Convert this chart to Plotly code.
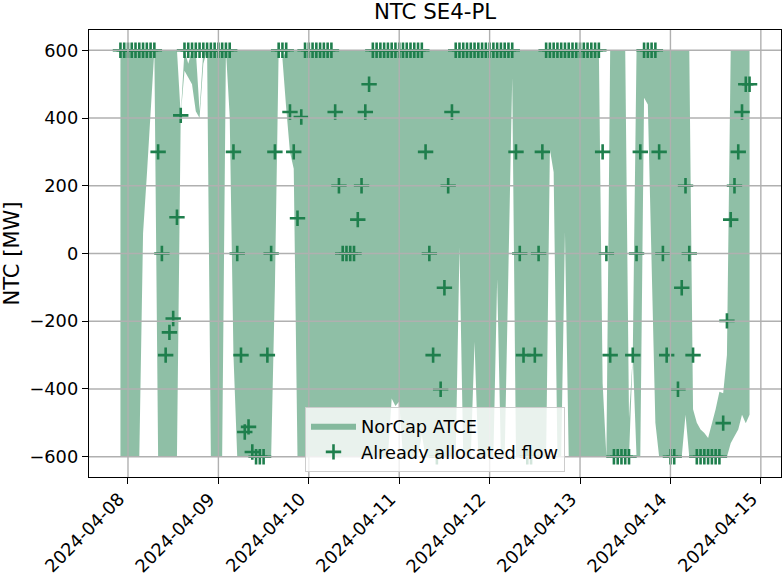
import plotly.graph_objects as go
import pandas as pd

# %% DATOS (una fila = un día, desde las 22:00 UTC)
horas = pd.date_range("2024-04-07 22:00", periods=168, freq="h")

flujo_asignado = [
    600, 600, 600, 600, 600, 600, 600, 600, 600, 600, 300, 0, -300, -233, -192, 107, 408, 600, 600, 600, 600, 600, 600, 600,
    600, 600, 600, 600, 600, 600, 300, 0, -300, -527, -512, -586, -600, -600, -600, -300, 0, 300, 600, 600, 600, 418, 300, 104,
    403, 600, 600, 600, 600, 600, 600, 600, 600, 418, 200, 0, 0, 0, 0, 100, 200, 418, 500, 600, 600, 600, 600, 600,
    600, 600, 600, 600, 600, 600, 600, 600, 600, 300, 0, -300, -600, -401, -101, 200, 418, 600, 600, 600, 600, 600, 600, 600,
    600, 600, 600, 600, 600, 600, 600, 600, 600, 300, 0, -300, -600, -600, -300, 0, 300, 600, 600, 600, 600, 600, 600, 600,
    600, 600, 600, 600, 600, 600, 600, 600, 300, 0, -300, -600, -600, -600, -600, -600, -300, 0, 300, 600, 600, 600, 600, 300,
    0, -300, -600, -600, -401, -101, 200, 0, -300, -600, -600, -600, -600, -600, -600, -600, -501, -199, 100, 200, 300, 418, 500, 500,
]

atce_max = [
    600, 600, 600, 600, 600, 600, 600, 600, 600, 600, 600, 600, 600, 600, 600, 600, 408, 600, 560, 600, 600, 420, 600, 600,
    600, 600, 600, 600, 600, 600, 600, 600, 600, 600, 600, 600, 600, 600, 600, 600, 600, 600, 600, 575, 600, 600, 600, 600,
    600, 600, 600, 600, 600, 600, 600, 600, 600, 600, 600, 600, 600, 600, 600, 600, 600, 600, 600, 600, 600, 600, 600, 600,
    600, 600, 600, 600, 600, 600, 600, 600, 600, 600, 600, 600, 600, 600, 600, 600, 600, 600, 600, 600, 600, 600, 600, 600,
    600, 600, 600, 600, 600, 600, 600, 600, 600, 600, 600, 600, 600, 600, 600, 600, 600, 600, 600, 600, 600, 600, 600, 600,
    600, 600, 600, 600, 600, 600, 600, 600, -383, -600, 600, 600, 600, 600, 600, -487, -300, 600, 600, 600, 600, 600, 600, 600,
    600, 600, 600, 600, 600, 600, 600, 600, -460, -500, -520, -530, -545, -505, -460, -408, -413, -300, 600, 600, 600, 600, 600, 600,
]

atce_min = [
    -600, -600, -600, -600, -600, -600, 60, 230, 400, 600, -600, -600, -600, -600, -600, -600, 408, 540, 520, 500, 420, 400, 560, 600,
    -600, -600, -600, -600, 600, 405, -300, -600, -600, -600, -600, -600, -600, -600, -600, -600, -600, -100, 600, 575, 430, 300, 250, -600,
    -600, -600, -600, -600, -600, -600, -600, -600, -600, -600, -600, -600, -600, -600, -600, -600, -600, -600, -600, -600, -600, -600, -600, -600,
    -428, -450, -437, -600, -600, -600, -600, -600, -535, -600, -600, -600, -600, -600, -600, -600, -600, -600, 18, -600, -600, -600, -261, -600,
    -600, -600, -600, -600, -75, -600, -600, -100, 519, -600, -600, -600, -600, -600, -600, -600, -600, -600, 308, 240, -600, -600, 63, -600,
    -600, -600, -600, -600, -600, -600, -600, -600, -600, -600, -600, -600, -600, -600, -600, -600, -300, -600, -600, 460, 440, -50, -500, -600,
    -600, -600, -600, -600, -600, -600, -476, -600, -600, -600, -600, -600, -600, -600, -600, -600, -600, -600, -560, -540, -520, -476, -501, -476,
]

ticks_y = [-600, -400, -200, 0, 200, 400, 600]
ticks_x = pd.date_range("2024-04-08", "2024-04-15", freq="D")

# %% ESTILO
verde = "rgb(31,127,77)"
verde_relleno = "rgba(31,127,77,0.5)"
gris_grid = "#b0b0b0"
fuente = "DejaVu Sans"
tam = 17.8

# %% FIGURA
fig = go.Figure()

# banda NorCap ATCE como polígono (máximo ida, mínimo vuelta)
fig.add_trace(go.Scatter(
    x=list(horas) + list(horas[::-1]),
    y=atce_max + atce_min[::-1],
    fill="toself", fillcolor=verde_relleno,
    line=dict(width=0), mode="lines",
    name="NorCap ATCE", hoverinfo="skip",
))

fig.add_trace(go.Scatter(
    x=horas, y=flujo_asignado, mode="markers",
    marker=dict(symbol="cross-thin", size=11, line=dict(width=2.6, color=verde), color=verde),
    name="Already allocated flow",
))

# rejilla encima de todo, como en el original
for v in ticks_y:
    fig.add_shape(type="line", xref="paper", yref="y", x0=0, x1=1, y0=v, y1=v,
                  line=dict(color=gris_grid, width=1.4), layer="above")
for d in ticks_x:
    fig.add_shape(type="line", xref="x", yref="paper", x0=d, x1=d, y0=0, y1=1,
                  line=dict(color=gris_grid, width=1.4), layer="above")

# etiquetas de fecha giradas, alineadas a la derecha con la marca
for d in ticks_x:
    fig.add_annotation(x=d, xref="x", y=0, yref="paper", yshift=-9, xshift=3,
                       text=d.strftime("%Y-%m-%d"), textangle=-45,
                       xanchor="right", yanchor="top", showarrow=False,
                       font=dict(size=tam, color="black"))

fig.update_layout(
    width=782, height=574,
    margin=dict(l=89, r=1, t=30, b=97),
    paper_bgcolor="white", plot_bgcolor="white",
    font=dict(family=fuente, size=tam, color="black"),
    title=dict(text="NTC SE4-PL", x=0.5, xref="paper", xanchor="center",
               y=1 - 12 / 574, yref="container", yanchor="middle",
               font=dict(size=21.3, color="black")),
    legend=dict(x=0.5, xanchor="center", y=0.012, yanchor="bottom",
                bgcolor="rgba(255,255,255,0.8)", bordercolor="#cccccc", borderwidth=1,
                font=dict(size=tam), itemwidth=45, tracegroupgap=0),
    showlegend=True,
)

fig.update_xaxes(
    type="date",
    range=["2024-04-07 13:39", "2024-04-15 05:21"],
    tickvals=list(ticks_x), showticklabels=False,
    ticks="outside", ticklen=6, tickwidth=1.4, tickcolor="black",
    showgrid=False, zeroline=False,
    showline=True, linecolor="black", linewidth=1.4, mirror=True,
    automargin=False,
)

fig.update_yaxes(
    range=[-660, 660],
    tickvals=ticks_y, ticktext=[str(v).replace("-", "\u2212") for v in ticks_y],
    ticks="outside", ticklen=6, tickwidth=1.4, tickcolor="black",
    showgrid=False, zeroline=False,
    showline=True, linecolor="black", linewidth=1.4, mirror=True,
    title=dict(text="NTC [MW]", standoff=13),
    automargin=False,
)

# sin el margen por defecto del body, el lienzo ocupa la ventana entera
fig.write_html("out.html", config={"displayModeBar": False},
               post_script="document.body.style.margin='0';")
